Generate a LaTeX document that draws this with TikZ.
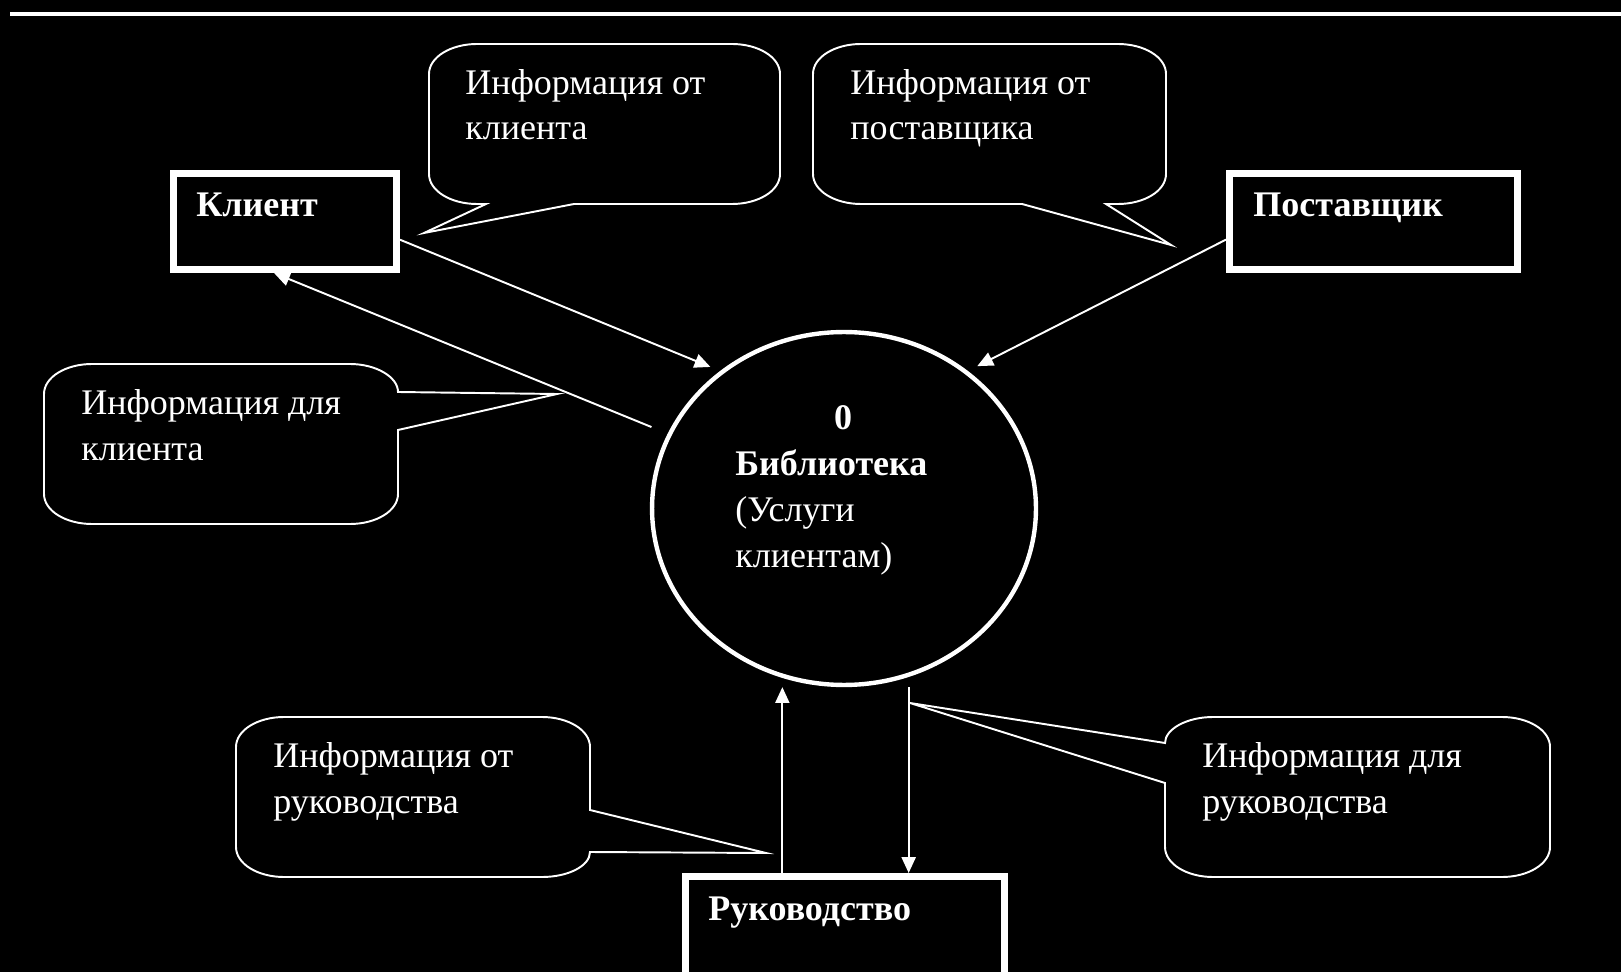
\documentclass[tikz,border=0pt]{standalone}
\usepackage{fontspec}
\setmainfont{Liberation Serif}
\usetikzlibrary{shapes.geometric,arrows.meta}
\begin{document}
\begin{tikzpicture}[x=0.02cm,y=-0.02cm,
  entity/.style={draw=white,line width=4pt,minimum width=#1,minimum height=1.92cm,inner sep=0pt},
  process/.style={ellipse,draw=white,line width=2.5pt,minimum width=7.68cm,minimum height=7.06cm,inner sep=0pt},
  flow/.style={draw=white,line width=1.1pt,-{Triangle[length=9pt,width=8pt]}},
  callout/.style={draw=white,line width=1.1pt},
  lbl/.style={text=white,anchor=base west,inner sep=0pt,align=left,font=\fontsize{20.5}{26}\selectfont}]
%background
\fill[black](0,0) rectangle (1621,972);
\useasboundingbox (0,0) rectangle (1621,972);
\draw[white,line width=2.8pt](10,14)--(1621,14);
%entities
\node[entity=4.46cm] (client) at (285,221.5) {};
\node[entity=5.76cm] (supplier) at (1373.5,221.5) {};
\node[entity=6.38cm,minimum height=2.8cm] (mgmt) at (845,946.5) {};
\node[lbl] (clienttxt) at (196,217) {\bfseries Клиент};
\node[lbl] (suppliertxt) at (1253,217) {\bfseries Поставщик};
\node[lbl] (mgmttxt) at (708,920) {\bfseries Руководство};
%process
\node[process] (lib) at (844,508.5) {};
\node[lbl,anchor=base] (libnum) at (843,430) {\bfseries 0};
\node[lbl] (libtxt) at (735,567) {{\bfseries Библиотека}\\(Услуги\\клиентам)};
%flows
\draw[flow,shorten >=6pt] (client.-9.5)--(lib.132);
\draw[flow,shorten <=10pt] (lib.157)--(client.-102);
\draw[flow,shorten >=6pt] (supplier.187)--(lib.48);
\draw[flow] (lib.250 |- mgmt.north)--(lib.250 |- lib.south);
\draw[flow] (lib.291 |- lib.south)--(lib.291 |- mgmt.north);
%callouts
\draw[callout](477,44)--(732,44) .. controls +(26,0) and +(0,-17) .. (780,74)--(780,174) .. controls +(0,17) and +(26,0) .. (732,204)--(574,204)--(424,233)--(486,204)--(477,204) .. controls +(-26,0) and +(0,17) .. (429,174)--(429,74) .. controls +(0,-17) and +(-26,0) .. (477,44)--cycle;
\draw[callout](861,44)--(1118,44) .. controls +(26,0) and +(0,-17) .. (1166,74)--(1166,174) .. controls +(0,17) and +(26,0) .. (1118,204)--(1106,204)--(1171,245)--(1022,204)--(861,204) .. controls +(-26,0) and +(0,17) .. (813,174)--(813,74) .. controls +(0,-17) and +(-26,0) .. (861,44)--cycle;
\draw[callout](92,364)--(350,364) .. controls +(26,0) and +(0,-15) .. (398,392)--(557,394)--(398,430)--(398,494) .. controls +(0,17) and +(26,0) .. (350,524)--(92,524) .. controls +(-26,0) and +(0,17) .. (44,494)--(44,394) .. controls +(0,-17) and +(-26,0) .. (92,364)--cycle;
\draw[callout](284,717)--(542,717) .. controls +(26,0) and +(0,-17) .. (590,747)--(590,810)--(766,853)--(590,852) .. controls +(0,14) and +(26,0) .. (542,877)--(284,877) .. controls +(-26,0) and +(0,17) .. (236,847)--(236,747) .. controls +(0,-17) and +(-26,0) .. (284,717)--cycle;
\draw[callout](1213,717)--(1502,717) .. controls +(26,0) and +(0,-17) .. (1550,747)--(1550,847) .. controls +(0,17) and +(26,0) .. (1502,877)--(1213,877) .. controls +(-26,0) and +(0,17) .. (1165,847)--(1165,783)--(910,703)--(1165,743) .. controls +(0,-14) and +(-26,0) .. (1213,717)--cycle;
\node[lbl] (fromclient) at (465,140) {Информация от\\клиента};
\node[lbl] (fromsupplier) at (850,140) {Информация от\\поставщика};
\node[lbl] (toclient) at (81,460) {Информация для\\клиента};
\node[lbl] (frommgmt) at (273,813) {Информация от\\руководства};
\node[lbl] (tomgmt) at (1202,813) {Информация для\\руководства};
\end{tikzpicture}
\end{document}
